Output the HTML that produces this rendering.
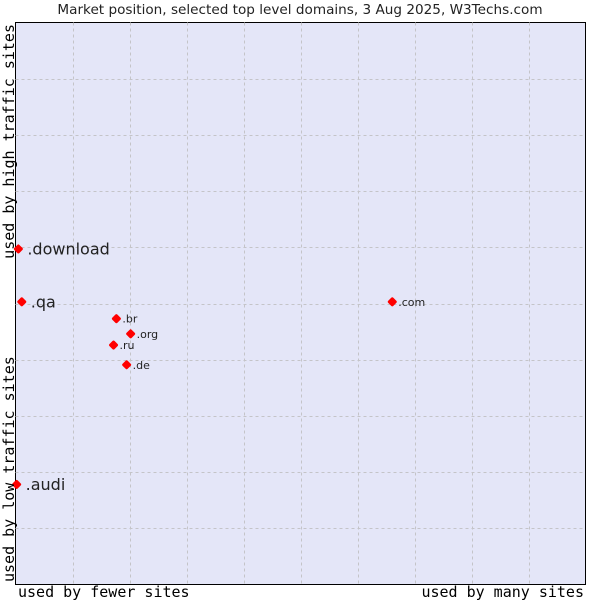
<!DOCTYPE html>
<html><head><meta charset="utf-8"><style>
body{margin:0;background:#fff;width:600px;height:600px;overflow:hidden}
</style></head><body>
<svg width="600" height="600" xmlns="http://www.w3.org/2000/svg">
<text x="300" y="14" text-anchor="middle" font-family="DejaVu Sans, sans-serif" font-size="13.6" fill="#222">Market position, selected top level domains, 3 Aug 2025, W3Techs.com</text>
<rect x="15.5" y="22.5" width="570" height="562" fill="#e4e6f8" stroke="#000"/>
<g id="grid"></g>
<g id="points"></g>
<text x="18" y="597" font-family="DejaVu Sans Mono, monospace" font-size="15" fill="#000">used by fewer sites</text>
<text x="584" y="597" text-anchor="end" font-family="DejaVu Sans Mono, monospace" font-size="15" fill="#000">used by many sites</text>
<text transform="translate(14,582) rotate(-90)" font-family="DejaVu Sans Mono, monospace" font-size="15" fill="#000">used by low traffic sites</text>
<text transform="translate(14,24) rotate(-90)" text-anchor="end" font-family="DejaVu Sans Mono, monospace" font-size="15" fill="#000">used by high traffic sites</text>
</svg>
<script>
const domains=[".download",".qa",".br",".org",".ru",".de",".com",".audi"];
const xValues=[0.5,1.1,17.7,20.2,17.2,19.5,66.1,0.2];
const yValues=[59.7,50.3,47.3,44.6,42.6,39.1,50.3,17.8];
const bigLabel=[true,true,false,false,false,false,false,true];
const L=15.5,R=585.5,T=22.5,B=584.5;
const sx=v=>L+v/100*(R-L), sy=v=>B-v/100*(B-T);
const NS="http://www.w3.org/2000/svg";
const grid=document.getElementById('grid');
for(let i=1;i<10;i++){
 const gx=Math.round(sx(i*10))+0.5, gy=Math.round(sy(i*10))+0.5;
 let a=document.createElementNS(NS,'line');
 a.setAttribute('x1',gx);a.setAttribute('x2',gx);a.setAttribute('y1',T);a.setAttribute('y2',B);
 a.setAttribute('stroke','#c4c4c8');a.setAttribute('stroke-dasharray','3,3');
 
 
 grid.appendChild(a);
 let b=document.createElementNS(NS,'line');
 b.setAttribute('y1',gy);b.setAttribute('y2',gy);b.setAttribute('x1',L);b.setAttribute('x2',R);
 b.setAttribute('stroke','#c4c4c8');b.setAttribute('stroke-dasharray','3,3');
 
 
 grid.appendChild(b);
}
const pts=document.getElementById('points');
domains.forEach((d,i)=>{
 const x=sx(xValues[i]),y=sy(yValues[i]);
 const p=document.createElementNS(NS,'rect');
 p.setAttribute('x',x-3.6);p.setAttribute('y',y-3.6);
 p.setAttribute('width',7.2);p.setAttribute('height',7.2);
 p.setAttribute('rx',1.5);
 p.setAttribute('transform',`rotate(45 ${x} ${y})`);
 p.setAttribute('fill','#f00');
 
 
 pts.appendChild(p);
 const t=document.createElementNS(NS,'text');
 t.setAttribute('x',x+(bigLabel[i]?9:6));
 t.setAttribute('y',y+(bigLabel[i]?5.5:4));
 t.setAttribute('font-family','DejaVu Sans, sans-serif');
 t.setAttribute('font-size',bigLabel[i]?'16':'11');
 t.setAttribute('fill','#222');
 t.textContent=d;
 
 
 pts.appendChild(t);
});
</script>
</body></html>
